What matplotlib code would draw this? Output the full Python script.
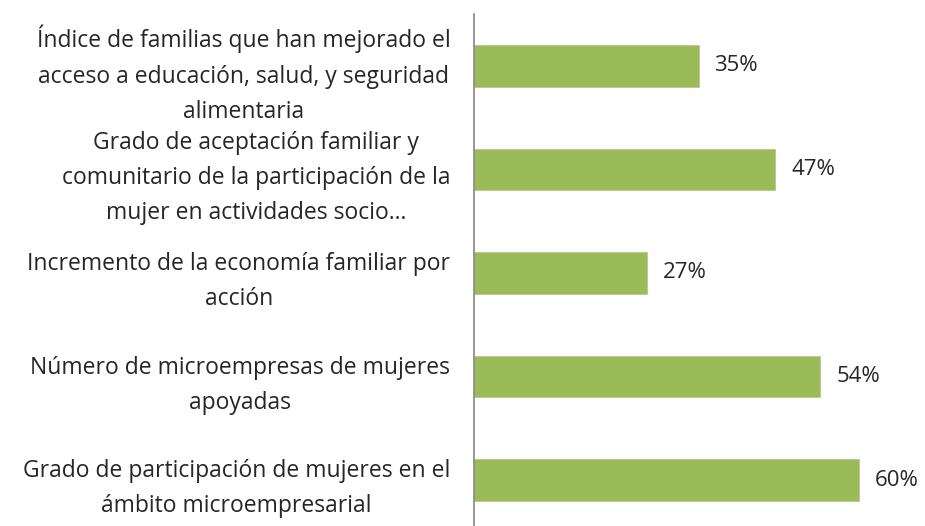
import matplotlib.pyplot as plt

categories = [
    'Índice de familias que han mejorado el\nacceso a educación, salud, y seguridad\nalimentaria',
    'Grado de aceptación familiar y\ncomunitario de la participación de la\nmujer en actividades socio...',
    'Incremento de la economía familiar por\nacción',
    'Número de microempresas de mujeres\napoyadas',
    'Grado de participación de mujeres en el\námbito microempresarial',
]
values = [35, 47, 27, 54, 60]
value_labels = ['35%', '47%', '27%', '54%', '60%']

plt.rcParams['font.family'] = ['Open Sans', 'DejaVu Sans']

fig = plt.figure(figsize=(9.25, 5.26), dpi=100)
ax = fig.add_axes([474 / 925, -6 / 526, 449 / 925, 518 / 526])

pos = list(range(len(categories)))
ax.barh(pos, values, height=0.4, color='#9BBB59', edgecolor='#B5CC85', linewidth=0.6)
ax.set_xlim(0, 70)
ax.set_ylim(len(categories) - 0.5, -0.5)

for p, v, lab in zip(pos, values, value_labels):
    ax.text(v + 2.5, p, lab, va='center', ha='left', fontsize=16, color='#262626')

ax.set_yticks(pos)
ax.set_yticklabels(categories, fontsize=16.5, color='#262626', linespacing=1.62,
                   multialignment='center')
ax.tick_params(axis='y', length=0, pad=17)
ax.set_xticks([])
for s in ['top', 'right', 'bottom']:
    ax.spines[s].set_visible(False)
ax.spines['left'].set_color('#868686')
ax.spines['left'].set_linewidth(1.2)

fig.savefig('out.png', dpi=100)
